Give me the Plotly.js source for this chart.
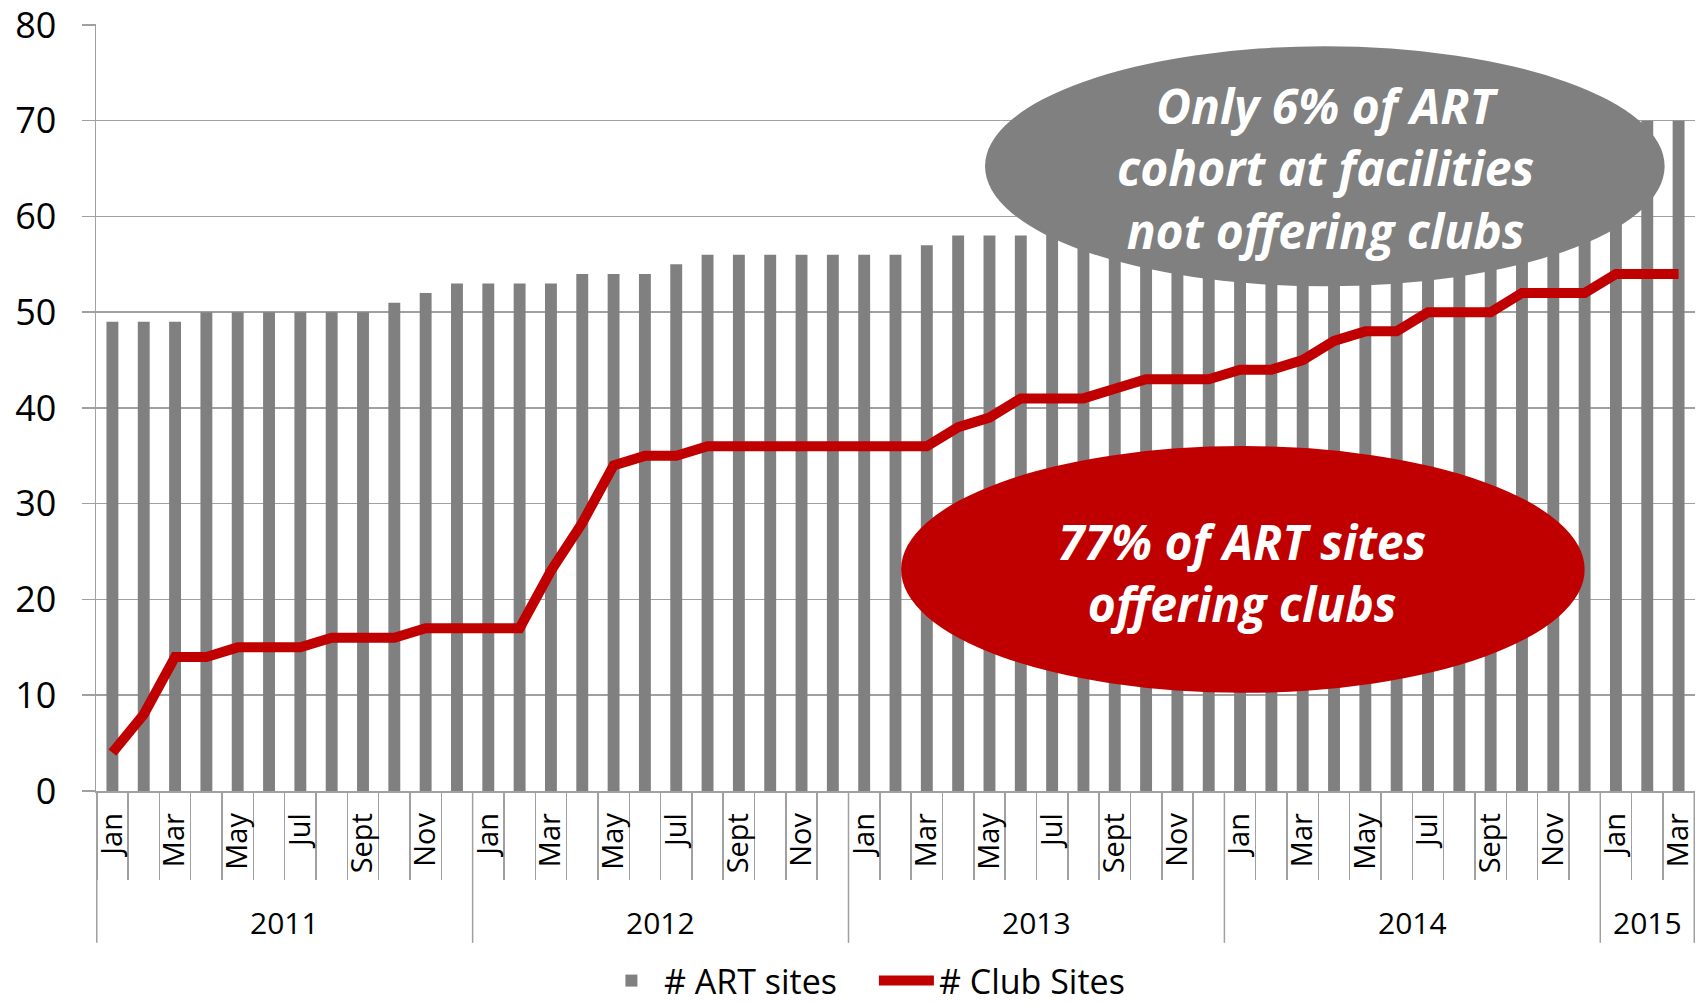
<!DOCTYPE html>
<html>
<head>
<meta charset="utf-8">
<script src="https://cdn.plot.ly/plotly-3.0.1.min.js"></script>
<style>
html,body{margin:0;padding:0;background:#fff;}
#chart{width:1706px;height:1005px;}
</style>
</head>
<body>
<div id="chart"></div>
<script>
// ---- data ----
const years = ['2011', '2012', '2013', '2014', '2015'];
const monthsPerYear = [12, 12, 12, 12, 3];
const monthNames = ['Jan', 'Feb', 'Mar', 'Apr', 'May', 'Jun', 'Jul', 'Aug', 'Sept', 'Oct', 'Nov', 'Dec'];
const monthTickLabels = ['Jan', '', 'Mar', '', 'May', '', 'Jul', '', 'Sept', '', 'Nov', ''];

const artSites = [
  49, 49, 49, 50, 50, 50, 50, 50, 50, 51, 52, 53,
  53, 53, 53, 54, 54, 54, 55, 56, 56, 56, 56, 56,
  56, 56, 57, 58, 58, 58, 59, 59, 60, 60, 60, 61,
  61, 62, 62, 63, 63, 64, 64, 65, 65, 66, 66, 67,
  68, 70, 70
];
const clubSites = [
  4, 8, 14, 14, 15, 15, 15, 16, 16, 16, 17, 17,
  17, 17, 23, 28, 34, 35, 35, 36, 36, 36, 36, 36,
  36, 36, 36, 38, 39, 41, 41, 41, 42, 43, 43, 43,
  44, 44, 45, 47, 48, 48, 50, 50, 50, 52, 52, 52,
  54, 54, 54
];
const seriesNames = ['# ART sites', '# Club Sites'];
const noteGray = ['Only 6% of ART', 'cohort at facilities', 'not offering clubs'];
const noteRed = ['77% of ART sites', 'offering clubs'];

// ---- build categories ----
const cats = [], tickText = [], yearStart = [];
years.forEach((y, yi) => {
  yearStart.push(cats.length);
  for (let m = 0; m < monthsPerYear[yi]; m++) {
    cats.push(monthNames[m] + ' ' + y);
    tickText.push(monthTickLabels[m]);
  }
});

const GRID = '#a0a0a0';
const FONT = 'Open Sans, Noto Sans, sans-serif';

const traces = [
  {
    type: 'bar', name: seriesNames[0], x: cats, y: artSites,
    marker: {color: '#808080', line: {width: 0}}
  },
  {
    type: 'scatter', mode: 'lines', name: seriesNames[1], x: cats, y: clubSites,
    line: {color: '#c00000', width: 10}
  }
];

// year separators and year labels derived from data grouping
const shapes = [];
const annotations = [];
const sepBottom = -0.198;
yearStart.forEach((s, i) => {
  shapes.push({type: 'line', xref: 'x', yref: 'paper', x0: s - 0.5, x1: s - 0.5, y0: 0, y1: sepBottom,
    line: {color: GRID, width: 1.5}});
  annotations.push({xref: 'x', yref: 'paper', x: s + (monthsPerYear[i] - 1) / 2, y: -0.172,
    text: years[i], showarrow: false, yanchor: 'middle', font: {family: FONT, size: 30, color: '#000'}});
});
shapes.push({type: 'line', xref: 'x', yref: 'paper', x0: cats.length - 0.5, x1: cats.length - 0.5, y0: 0, y1: sepBottom,
  line: {color: GRID, width: 1.5}});

// callout ellipses
shapes.push({type: 'circle', xref: 'paper', yref: 'paper', x0: 0.556, x1: 0.981, y0: 0.658, y1: 0.971,
  fillcolor: '#808080', line: {width: 0}, layer: 'above'});
shapes.push({type: 'circle', xref: 'paper', yref: 'paper', x0: 0.5035, x1: 0.931, y0: 0.128, y1: 0.4498,
  fillcolor: '#c00000', line: {width: 0}, layer: 'above'});

const noteFont = {family: FONT, size: 48, color: '#ffffff', weight: 'bold', style: 'italic'};
annotations.push({xref: 'paper', yref: 'paper', x: 0.7687, y: 0.8123, showarrow: false,
  text: noteGray.join('<br>'), align: 'center', xanchor: 'center', yanchor: 'middle', font: noteFont});
annotations.push({xref: 'paper', yref: 'paper', x: 0.7168, y: 0.2855, showarrow: false,
  text: noteRed.join('<br>'), align: 'center', xanchor: 'center', yanchor: 'middle', font: noteFont});

const layout = {
  width: 1706, height: 1005,
  margin: {l: 96, r: 11, t: 24, b: 214, autoexpand: false},
  paper_bgcolor: '#ffffff', plot_bgcolor: '#ffffff',
  font: {family: FONT, color: '#000'},
  bargap: 0.62,
  showlegend: true,
  legend: {orientation: 'h', x: 0.4865, xanchor: 'center', y: -0.2477, yanchor: 'middle',
    font: {family: FONT, size: 34, color: '#000'}, itemwidth: 55, entrywidth: 205,
    traceorder: 'normal'},
  xaxis: {
    type: 'category', tickvals: cats, ticktext: tickText, tickangle: -90,
    tickson: 'boundaries', ticks: 'outside', ticklen: 87, tickwidth: 1.5, tickcolor: GRID,
    ticklabelstandoff: 9, automargin: false,
    showline: true, linecolor: GRID, linewidth: 1.5, showgrid: false, zeroline: false,
    tickfont: {family: FONT, size: 29, color: '#000'}
  },
  yaxis: {
    range: [0, 80.1], dtick: 10, tick0: 0, automargin: false, ticklabeloverflow: 'allow',
    showgrid: true, gridcolor: GRID, gridwidth: 1.5,
    showline: true, linecolor: GRID, linewidth: 1.5,
    ticks: 'outside', ticklen: 13, tickwidth: 1.5, tickcolor: GRID,
    ticklabelstandoff: 18,
    zeroline: false,
    tickfont: {family: FONT, size: 36, color: '#000'}
  },
  shapes: shapes,
  annotations: annotations,
  hovermode: false
};

Plotly.newPlot('chart', traces, layout, {displayModeBar: false, staticPlot: true});
</script>
</body>
</html>
